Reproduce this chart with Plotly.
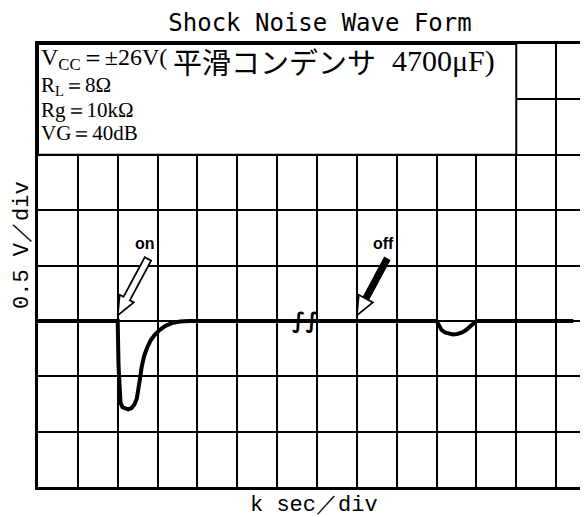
import math
import plotly.graph_objects as go

# ---- data (time in divisions, voltage in volts; 0.5 V/div) ----
time_div = [0.0, 2.00, 2.02, 2.04, 2.07, 2.12, 2.19, 2.26, 2.34, 2.42, 2.48, 2.52,
            2.56, 2.60, 2.66, 2.74, 2.82, 2.92, 3.04, 3.20, 3.36, 3.56, 3.80,
            10.00, 10.05, 10.12, 10.21, 10.31, 10.41, 10.52, 10.64, 10.74, 10.82,
            10.89, 10.95, 11.00, 13.43]
voltage = [0.0, 0.0, -0.40, -0.66, -0.74, -0.78, -0.795, -0.80, -0.79, -0.755, -0.70, -0.63,
           -0.52, -0.42, -0.32, -0.24, -0.18, -0.13, -0.085, -0.045, -0.02, -0.005, 0.0,
           0.0, -0.04, -0.08, -0.105, -0.118, -0.122, -0.118, -0.105, -0.083, -0.058,
           -0.032, -0.012, 0.0, 0.0]

event_labels = ["on", "off"]
event_times = [2.0, 8.0]
break_time = [6.7]

title_text = "Shock Noise Wave Form"
x_label = "k sec／div"
y_label = "0.5 V／div"
cond_lines = ["R<sub>L</sub>＝8Ω", "Rg＝10kΩ", "VG＝40dB"]

# page body adds an 8px offset; figure is sized to fill the rest of the window
OFF = 8
W, H = 588 - OFF, 517 - OFF
ML, MR, MT, MB = 38 - OFF, 0, 44 - OFF, 30
PW, PH = W - ML - MR, H - MT - MB
X_RANGE = [0, 13.8]
Y_RANGE = [-1.5, 2.5]
PX_PER_X = PW / (X_RANGE[1] - X_RANGE[0])
PX_PER_Y = PH / (Y_RANGE[1] - Y_RANGE[0])

def px(xp):  # window pixel x -> paper
    return (xp - OFF - ML) / PW

def py(yp):  # window pixel y -> paper
    return 1 - (yp - OFF - MT) / PH

fig = go.Figure()
fig.add_trace(go.Scatter(x=time_div, y=voltage, mode="lines",
                         line=dict(color="black", width=4), hoverinfo="skip",
                         showlegend=False))

# ---- event arrows, built in screen-pixel geometry (y up) and mapped to data units ----
ARROW_DIR = (30, 56)      # tip -> tail direction in pixels, y pointing up
ARROW_LEN = 64
HEAD_LEN, HEAD_HALF, SHAFT_HALF = 19, 8, 3.6
TIP_LIFT = 0.05           # volts above baseline
hollow_shaft = [True, False]

dl = math.hypot(*ARROW_DIR)
d = (ARROW_DIR[0] / dl, ARROW_DIR[1] / dl)
n = (-d[1], d[0])

def P(a, b):
    return (d[0] * a + n[0] * b, d[1] * a + n[1] * b)

def arrow_pts(t, pts):
    xs = [t + p[0] / PX_PER_X for p in pts]
    ys = [TIP_LIFT + p[1] / PX_PER_Y for p in pts]
    return xs + [xs[0]], ys + [ys[0]]

for lab, t, hol in zip(event_labels, event_times, hollow_shaft):
    if hol:
        poly = [P(0, 0), P(HEAD_LEN, HEAD_HALF), P(HEAD_LEN, SHAFT_HALF),
                P(ARROW_LEN, SHAFT_HALF), P(ARROW_LEN, -SHAFT_HALF),
                P(HEAD_LEN, -SHAFT_HALF), P(HEAD_LEN, -HEAD_HALF)]
        xs, ys = arrow_pts(t, poly)
        fig.add_trace(go.Scatter(x=xs, y=ys, mode="lines", fill="toself", fillcolor="white",
                                 line=dict(color="black", width=1.8), hoverinfo="skip",
                                 showlegend=False))
    else:
        shaft = [P(HEAD_LEN - 1, SHAFT_HALF * 0.8), P(ARROW_LEN, SHAFT_HALF * 0.8),
                 P(ARROW_LEN, -SHAFT_HALF * 0.8), P(HEAD_LEN - 1, -SHAFT_HALF * 0.8)]
        xs, ys = arrow_pts(t, shaft)
        fig.add_trace(go.Scatter(x=xs, y=ys, mode="lines", fill="toself", fillcolor="black",
                                 line=dict(color="black", width=1.5), hoverinfo="skip",
                                 showlegend=False))
        head = [P(0, 0), P(HEAD_LEN, HEAD_HALF), P(HEAD_LEN, -HEAD_HALF)]
        xs, ys = arrow_pts(t, head)
        fig.add_trace(go.Scatter(x=xs, y=ys, mode="lines", fill="toself", fillcolor="white",
                                 line=dict(color="black", width=1.8), hoverinfo="skip",
                                 showlegend=False))

# conditions box (covers grid in top two rows)
fig.add_shape(type="rect", xref="x", yref="y", x0=0, x1=12, y0=1.5, y1=2.5,
              fillcolor="white", line=dict(color="black", width=2), layer="between")

serif = "Liberation Serif, DejaVu Serif, serif"
cjk = "Noto Sans CJK JP"
ann = []
ann.append(dict(x=px(40), y=py(59), xref="paper", yref="paper", xanchor="left", yanchor="middle",
                text="V<sub>CC</sub>＝±26V(", showarrow=False, borderpad=0,
                font=dict(family=serif, size=24, color="black")))
ann.append(dict(x=px(172), y=py(61), xref="paper", yref="paper", xanchor="left", yanchor="middle",
                text="平滑コンデンサ", showarrow=False, borderpad=0,
                font=dict(family=cjk, size=29, color="black")))
ann.append(dict(x=px(391), y=py(61), xref="paper", yref="paper", xanchor="left", yanchor="middle",
                text="4700μF)", showarrow=False, borderpad=0,
                font=dict(family=serif, size=30, color="black")))
for t, yy in zip(cond_lines, [86, 110, 133]):
    ann.append(dict(x=px(40), y=py(yy), xref="paper", yref="paper", xanchor="left", yanchor="middle",
                    text=t, showarrow=False, borderpad=0,
                    font=dict(family=serif, size=21, color="black")))

# axis labels
ann.append(dict(x=px(22), y=py(245), xref="paper", yref="paper", xanchor="center", yanchor="middle",
                text=y_label, textangle=-90, showarrow=False,
                font=dict(family="Liberation Mono, monospace", size=22, color="black")))
ann.append(dict(x=px(314), y=py(505), xref="paper", yref="paper", xanchor="center", yanchor="middle",
                text=x_label, showarrow=False,
                font=dict(family="Liberation Mono, monospace", size=22, color="black")))

# break mark
for bt in break_time:
    ann.append(dict(x=bt, y=0, xref="x", yref="y", text="<b>∫∫</b>", showarrow=False,
                    font=dict(family="DejaVu Sans", size=22, color="black")))

# event labels
for lab, t in zip(event_labels, event_times):
    ann.append(dict(x=t + 0.68, y=0.7, xref="x", yref="y", text="<b>" + lab + "</b>",
                    showarrow=False,
                    font=dict(family="Liberation Sans, Arial", size=16, color="black")))

fig.update_layout(
    width=W, height=H,
    margin=dict(l=ML, r=MR, t=MT, b=MB),
    paper_bgcolor="white", plot_bgcolor="white",
    title=dict(text=title_text, x=(320 - OFF) / W, xref="container", xanchor="center",
               y=1 - (23 - OFF) / H, yref="container", yanchor="middle",
               font=dict(family="DejaVu Sans Mono", size=24, color="black")),
    annotations=ann,
    xaxis=dict(range=X_RANGE, dtick=1, tick0=0, showgrid=True, gridcolor="black",
               gridwidth=1.6, zeroline=False, showticklabels=False, ticks="",
               showline=True, linecolor="black", linewidth=2.5, mirror=True, fixedrange=True),
    yaxis=dict(range=Y_RANGE, dtick=0.5, tick0=0, showgrid=True, gridcolor="black",
               gridwidth=1.6, zeroline=False, showticklabels=False, ticks="",
               showline=True, linecolor="black", linewidth=2.5, mirror=False, fixedrange=True),
)

fig.write_html("out.html")
